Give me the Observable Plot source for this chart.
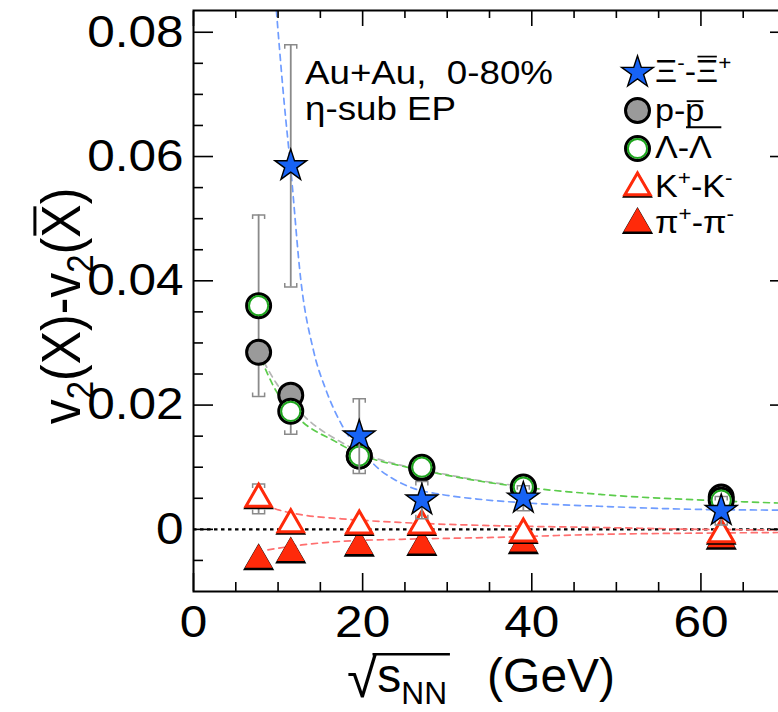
<!DOCTYPE html>
<html><head><meta charset="utf-8">
<script src="https://cdn.jsdelivr.net/npm/d3@7"></script>
<script src="https://cdn.jsdelivr.net/npm/@observablehq/plot@0.6"></script>
<style>
html,body{margin:0;padding:0;background:#fff;overflow:hidden;}
#chart{width:778px;height:712px;overflow:hidden;}
</style></head><body><div id="chart"></div>
<script>
// ---------------- data ----------------
const energies = [7.7, 11.5, 19.6, 27, 39, 62.4];

const xiEnergies = [11.5, 19.6, 27, 39, 62.4];
const xiValues   = [0.0585, 0.0150, 0.0047, 0.0050, 0.0030];
const xiErrors   = [0.0195, 0.0060, 0.0030, 0.0020, 0.0023];

const protonValues = [0.0285, 0.0216, 0.0118, 0.0098, 0.0066, 0.0052];
const protonErrors = [0.0015, 0.0012, 0.0008, 0.0006, 0.0006, 0.0007];

const lambdaValues = [0.0360, 0.0190, 0.0118, 0.0100, 0.0068, 0.0047];
const lambdaErrors = [0.0146, 0.0037, 0.0015, 0.0012, 0.0010, 0.0012];

const kaonValues = [0.0049, 0.0008, 0.0006, 0.0006, -0.0007, -0.0008];
const kaonErrors = [0.0024, 0.0006, 0.0005, 0.0004, 0.0004, 0.0005];

const pionValues = [-0.0049, -0.0038, -0.0027, -0.0026, -0.0023, -0.0016];
const pionErrors = [0.0004, 0.0003, 0.0003, 0.0003, 0.0003, 0.0003];

// fit curves
const xiFitX = [9.8, 10.7, 11.5, 12.7, 14.2, 15.7, 17.5, 20.6, 22.2, 23.4, 25.8, 29.4, 34.1, 40, 48.3, 60.2, 70];
const xiFitY = [0.0835, 0.069, 0.058, 0.040, 0.0287, 0.0223, 0.0169, 0.0115, 0.0094, 0.0083, 0.0067, 0.0056, 0.0048, 0.0042, 0.0037, 0.0032, 0.0031];

const lambdaFitX = [7.7, 9.8, 12.8, 16.7, 19.6, 21, 24.6, 30, 34.1, 39, 48.3, 60.2, 70];
const lambdaFitY = [0.0283, 0.0222, 0.0174, 0.0142, 0.0121, 0.0114, 0.0102, 0.0087, 0.0077, 0.0068, 0.0056, 0.0047, 0.0042];

const protonFitX = [7.7, 9.8, 12.8, 17.9, 21, 24.6, 30, 34.1, 39];
const protonFitY = [0.0285, 0.0235, 0.0186, 0.0137, 0.0117, 0.0103, 0.0088, 0.0078, 0.0069];

const kaonFitX = [8.5, 9.2, 11, 13, 17.5, 24.6, 35.3, 48.3, 60.2, 70];
const kaonFitY = [0.0042, 0.0036, 0.0028, 0.0023, 0.0017, 0.0011, 0.0006, 0.0003, 0.0000, -0.0001];

const pionFitX = [8.8, 12.8, 17.9, 24.6, 35.3, 48.3, 60.2, 70];
const pionFitY = [-0.0033, -0.0025, -0.0019, -0.0016, -0.0013, -0.0008, -0.0006, -0.0005];

// axes
const xDomain = [0, 70];
const yDomain = [-0.01, 0.0835];
const xMajorTicks = [0, 20, 40, 60];
const xTickLabels = ["0", "20", "40", "60"];
const xMinorTicks = [5, 10, 15, 25, 30, 35, 45, 50, 55, 65];
const yMajorTicks = [0, 0.02, 0.04, 0.06, 0.08];
const yTickLabels = ["0", "0.02", "0.04", "0.06", "0.08"];
const yMinorTicks = [-0.005, 0.005, 0.01, 0.015, 0.025, 0.03, 0.035, 0.045, 0.05, 0.055, 0.065, 0.07, 0.075];
const zeroLine = [0];

// ---------------- build tables ----------------
const mk = (xs, ys, es) => xs.map((x, i) => ({x, y: ys[i], e: es ? es[i] : 0}));
const xi = mk(xiEnergies, xiValues, xiErrors);
const proton = mk(energies, protonValues, protonErrors);
const lambda = mk(energies, lambdaValues, lambdaErrors);
const kaon = mk(energies, kaonValues, kaonErrors);
const pion = mk(energies, pionValues, pionErrors);
const xiFit = mk(xiFitX, xiFitY);
const lambdaFit = mk(lambdaFitX, lambdaFitY);
const protonFit = mk(protonFitX, protonFitY);
const kaonFit = mk(kaonFitX, kaonFitY);
const pionFit = mk(pionFitX, pionFitY);

// styles
const FONT = "'Liberation Sans', Arial, Helvetica, sans-serif";
const SX = 1.1;
const BLUE = "#1763f5", RED = "#ff2a0a", GRAY = "#9a9a9a", GREEN = "#1ea51e";
const ERR = "#8a8a8a";

const capTop = {draw(c) { c.moveTo(-6, 4); c.lineTo(-6, 0); c.lineTo(6, 0); c.lineTo(6, 4); }};
const capBot = {draw(c) { c.moveTo(-6, -4); c.lineTo(-6, 0); c.lineTo(6, 0); c.lineTo(6, -4); }};

function errorMarks(data) {
  return [
    Plot.ruleX(data, {x: "x", y1: d => d.y - d.e, y2: d => d.y + d.e, stroke: ERR, strokeWidth: 1.8}),
    Plot.dot(data, {x: "x", y: d => d.y + d.e, symbol: capTop, stroke: ERR, fill: "none", strokeWidth: 1.5}),
    Plot.dot(data, {x: "x", y: d => d.y - d.e, symbol: capBot, stroke: ERR, fill: "none", strokeWidth: 1.5})
  ];
}
const fitLine = (data, stroke, extra = {}) =>
  Plot.line(data, {x: "x", y: "y", stroke, strokeWidth: 1.7, strokeDasharray: "6,5", curve: "monotone-x", clip: true, ...extra});

const starMarks = (data, o = {}) => [Plot.dot(data, {...o, symbol: "star", r: 10, fill: BLUE, stroke: "black", strokeWidth: 1.4})];
const pMarks = (data, o = {}) => [Plot.dot(data, {...o, r: 12, fill: GRAY, stroke: "black", strokeWidth: 3})];
const lamMarks = (data, o = {}) => [
  Plot.dot(data, {...o, r: 12, fill: "white", stroke: "black", strokeWidth: 3}),
  Plot.dot(data, {...o, r: 9.6, fill: "none", stroke: GREEN, strokeWidth: 2})
];
const kMarks = (data, o = {}) => [
  Plot.dot(data, {...o, symbol: "triangle", r: 11.4, fill: "black", dy: (o.dy || 0) + 1.5}),
  Plot.dot(data, {...o, symbol: "triangle", r: 9.4, fill: "white", stroke: RED, strokeWidth: 3})
];
const piMarks = (data, o = {}) => [
  Plot.dot(data, {...o, symbol: "triangle", r: 11.6, fill: "black", dy: (o.dy || 0) + 1.5}),
  Plot.dot(data, {...o, symbol: "triangle", r: 10.2, fill: RED})
];

const legendRows = [62, 100, 138, 177, 213];
const legendDx = 444;
const L = (i) => ({frameAnchor: "top-left", dx: legendDx, dy: legendRows[i]});

const tickStyle = {stroke: "black", fill: "none", strokeWidth: 1.6, label: null};

const plot = Plot.plot({
  width: 778, height: 712,
  marginLeft: 193, marginRight: -7, marginTop: 10, marginBottom: 121,
  style: {fontFamily: FONT, background: "white", color: "black"},
  x: {domain: xDomain, label: null},
  y: {domain: yDomain, label: null},
  marks: [
    Plot.ruleY(zeroLine, {y: d => d, stroke: "black", strokeWidth: 2.4, strokeDasharray: "3.5,3.5"}),
    fitLine(protonFit, "#b5b5b5"),
    fitLine(lambdaFit, "#5ccc4c", {strokeDashoffset: 5}),
    fitLine(xiFit, "#6f9cff"),
    fitLine(kaonFit, "#ff6f6f"),
    fitLine(pionFit, "#ff6f6f"),
    ...errorMarks(lambda), ...errorMarks(proton), ...errorMarks(kaon), ...errorMarks(pion),
    ...piMarks(pion, {x: "x", y: "y"}),
    ...kMarks(kaon, {x: "x", y: "y"}),
    ...pMarks(proton, {x: "x", y: "y"}),
    ...lamMarks(lambda, {x: "x", y: "y"}),
    ...errorMarks(xi),
    ...starMarks(xi, {x: "x", y: "y"}),
    // ticks (inside the frame)
    Plot.axisX({anchor: "bottom", ticks: xMajorTicks, tickSize: -18, ...tickStyle}),
    Plot.axisX({anchor: "bottom", ticks: xMinorTicks, tickSize: -9, ...tickStyle}),
    Plot.axisX({anchor: "top", ticks: xMajorTicks, tickSize: -15, ...tickStyle}),
    Plot.axisX({anchor: "top", ticks: xMinorTicks, tickSize: -7, ...tickStyle}),
    Plot.axisY({anchor: "left", ticks: yMajorTicks, tickSize: -20, ...tickStyle}),
    Plot.axisY({anchor: "left", ticks: yMinorTicks, tickSize: -10, ...tickStyle}),
    Plot.axisY({anchor: "right", ticks: yMajorTicks, tickSize: -16, ...tickStyle}),
    Plot.axisY({anchor: "right", ticks: yMinorTicks, tickSize: -8, ...tickStyle}),
    // tick labels
    Plot.axisX({anchor: "bottom", ticks: xMajorTicks, tickFormat: (d, i) => xTickLabels[i], tickSize: 0, tickPadding: 14, fontSize: 45, label: null, fill: "black"}),
    Plot.axisY({anchor: "left", ticks: yMajorTicks, tickFormat: (d, i) => yTickLabels[i], tickSize: 0, tickPadding: 10, fontSize: 45, label: null, fill: "black"}),
    Plot.frame({stroke: "black", strokeWidth: 2}),
    // legend symbols
    ...starMarks([0], L(0)),
    ...pMarks([0], L(1)),
    ...lamMarks([0], L(2)),
    ...kMarks([0], L(3)),
    ...piMarks([0], L(4))
  ]
});
document.getElementById("chart").appendChild(plot);

// ---------------- rich text ----------------
const svg = d3.select(plot);
svg.selectAll('g[aria-label="x-axis tick label"] text, g[aria-label="y-axis tick label"] text')
  .attr("transform", function () { return this.getAttribute("transform") + ` scale(${SX},1)`; });

const RAD = 1.15;
function rich(t, parts, size) {
  let shift = 0, idx = 0;
  const marks = [];
  for (const [txt, s] of parts) {
    const ts = t.append("tspan").text(txt);
    const target = s === "sup" ? -0.4 * size : s === "sub" ? 0.24 * size : s === "rad" ? 0.1 * size : 0;
    ts.attr("dy", target - shift); shift = target;
    if (s === "sup" || s === "sub") ts.attr("font-size", size * 0.66);
    if (s === "rad") ts.attr("font-size", size * RAD);
    marks.push({i0: idx, i1: idx + txt.length - 1, kind: s, base: target});
    idx += txt.length;
  }
  return marks;
}
function addText(x, y, parts, size, {anchor = "start", rotate = 0, sx = SX} = {}) {
  const g = svg.append("g").attr("transform",
    rotate ? `translate(${x},${y}) rotate(${rotate}) scale(1,${sx})` : `translate(${x},${y}) scale(${sx},1)`);
  const t = g.append("text").attr("font-size", size).attr("font-family", FONT)
    .attr("fill", "black").attr("text-anchor", anchor).style("white-space", "pre");
  const marks = rich(t, parts, size);
  const node = t.node();
  const hline = (x1, x2, y, w) => g.append("line").attr("x1", x1).attr("x2", x2).attr("y1", y).attr("y2", y)
    .attr("stroke", "black").attr("stroke-width", w);
  try {
    for (const m of marks) {
      if (m.kind === "bar" || m.kind === "barp") {
        const a = node.getExtentOfChar(m.i0), b = node.getExtentOfChar(m.i1);
        if (m.kind === "bar") {
          hline(a.x + 0.04 * size, b.x + b.width - 0.04 * size, m.base - 0.82 * size, 0.055 * size);
        } else {
          hline(a.x + 0.04 * size, b.x + b.width - 0.02 * size, m.base - 0.64 * size, 0.06 * size);
          hline(a.x + 0.02 * size, b.x + b.width + 0.5 * size, m.base + 0.2 * size, 0.06 * size);
        }
      }
    }
    const rad = marks.find(m => m.kind === "rad");
    if (rad) {
      const a = node.getExtentOfChar(rad.i0);
      const subs = marks.filter(m => m.kind === "sub");
      const last = subs.length ? subs[subs.length - 1] : marks[rad.i0 + 1];
      const b = node.getExtentOfChar(last.i1);
      hline(a.x + a.width - 0.1 * size, b.x + b.width + 0.06 * size, rad.base - RAD * size * 0.77, 0.05 * size);
    }
  } catch (e) {}
  return {g, t};
}

// annotation
addText(305, 84, [["Au+Au,  0-80%", ""]], 34, {sx: 1.08});
addText(305, 120, [["η-sub EP", ""]], 34, {sx: 1.08});

// legend labels
const legendX = 655, legendBase = [82, 121, 158, 197, 233], LS = 31;
addText(legendX, legendBase[0], [["Ξ", ""], ["-", "sup"], ["-", ""], ["Ξ", "bar"], ["+", "sup"]], LS);
addText(legendX, legendBase[1], [["p-", ""], ["p", "barp"]], LS);
addText(legendX, legendBase[2], [["Λ-Λ", ""]], LS);
addText(legendX, legendBase[3], [["K", ""], ["+", "sup"], ["-K", ""], ["-", "sup"]], LS);
addText(legendX, legendBase[4], [["π", ""], ["+", "sup"], ["-π", ""], ["-", "sup"]], LS);

// y title
addText(80, 306, [["v", ""], ["2", "sub"], ["(X)-v", ""], ["2", "sub"], ["(", ""], ["X", "bar"], [")", ""]], 50, {anchor: "middle", rotate: -90});

// x title with radical
addText(347, 692, [["√", "rad"], ["s", ""], ["NN", "sub"], ["   (GeV)", ""]], 48, {sx: 1.0});
</script>
</body></html>
